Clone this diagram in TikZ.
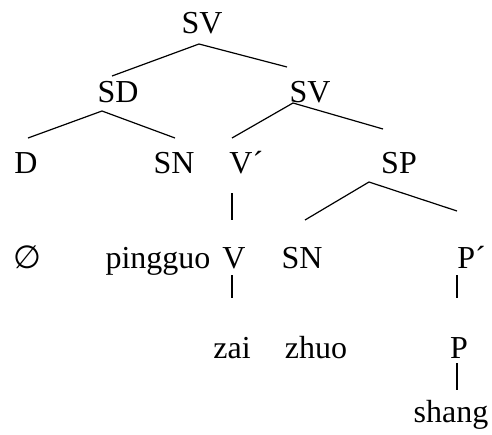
\documentclass[tikz,border=0pt]{standalone}
\usepackage{fontspec}
\setmainfont{Liberation Serif}
\newfontfamily\nullsetfont{DejaVu Sans}

\begin{document}
\begin{tikzpicture}[x=0.5pt, y=-0.5pt,
	every node/.style={anchor=base, inner sep=0pt, font=\fontsize{16}{18}\selectfont},
	branch/.style={line width=0.6pt}]
			\useasboundingbox (0,0) rectangle (492,434);
			% Root
			\node (root) at (202,33) {SV};
			% Second level
			\node (sd) at (118,102) {SD};
			\node (sv) at (310,102) {SV};
			% Third level
			\node (d) at (26,173) {D};
			\node (sn) at (174,173) {SN};
			\node[anchor=base west] (vbar) at (229,173) {V´};
			\node (sp) at (399,173) {SP};
			% Fourth level
			\node (zero) at (27,268) {\nullsetfont ∅};
			\node (pingguo) at (158,268) {pingguo};
			\node (v) at (234,268) {V};
			\node (snb) at (302,268) {SN};
			\node[anchor=base west] (pbar) at (457,268) {P´};
			% Fifth level
			\node (zai) at (232,358) {zai};
			\node (zhuo) at (316,358) {zhuo};
			\node (p) at (459,358) {P};
			% Sixth level
			\node (shang) at (451,422) {shang};
			% Branch ends
			\coordinate (rootA) at (199,44);
			\coordinate (rootL) at (112,76);
			\coordinate (rootR) at (287,67);
			\coordinate (sdA) at (102,111);
			\coordinate (sdL) at (28,138);
			\coordinate (sdR) at (175,138);
			\coordinate (svA) at (293,103);
			\coordinate (svL) at (232,138);
			\coordinate (svR) at (383,129);
			\coordinate (spA) at (369,182);
			\coordinate (spL) at (305,220);
			\coordinate (spR) at (457,211);
			\coordinate (vbarT) at (232,193);
			\coordinate (vbarB) at (232,220);
			\coordinate (vT) at (232,275);
			\coordinate (vB) at (232,298);
			\coordinate (pbarT) at (457,275);
			\coordinate (pbarB) at (457,298);
			\coordinate (pT) at (457,363);
			\coordinate (pB) at (457,390);
			% Binary branches
			\draw[branch] (rootL) -- (rootA) -- (rootR);
			\draw[branch] (sdL) -- (sdA) -- (sdR);
			\draw[branch] (svL) -- (svA) -- (svR);
			\draw[branch] (spL) -- (spA) -- (spR);
			% Unary branches
			\draw[branch] (vbarT) -- (vbarB);
			\draw[branch] (vT) -- (vB);
			\draw[branch] (pbarT) -- (pbarB);
			\draw[branch] (pT) -- (pB);
		\end{tikzpicture}
\end{document}
